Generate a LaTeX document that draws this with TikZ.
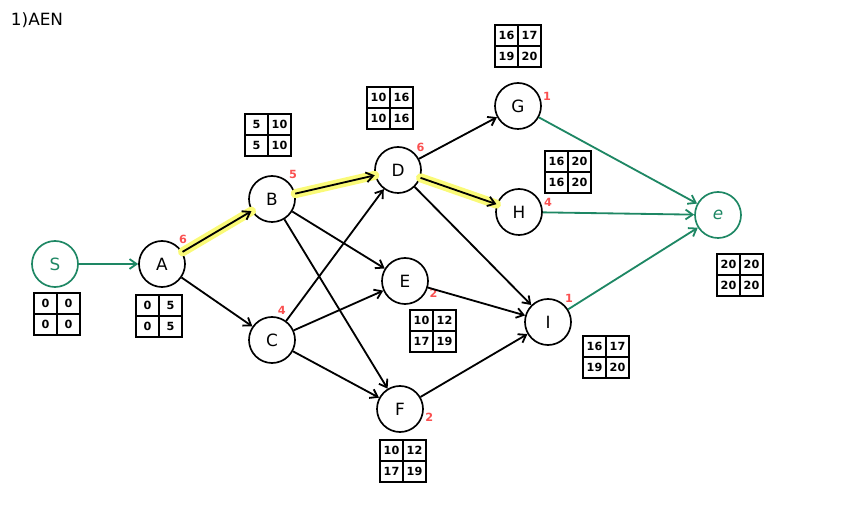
\documentclass[tikz,border=0pt]{standalone}
\usepackage{fontspec}
\setmainfont{DejaVu Sans}
\usepackage{tikz}
\usetikzlibrary{arrows.meta}
\definecolor{pathgreen}{RGB}{30,135,100}
\definecolor{weightred}{RGB}{250,80,80}
\definecolor{critical}{RGB}{250,250,120}
\tikzset{
	event/.style={draw,circle,line width=1.2pt,minimum size=1.15cm,inner sep=0pt,font=\large},
	endevent/.style={event,draw=pathgreen,text=pathgreen},
	weight/.style={text=weightred,font=\footnotesize\bfseries,inner sep=1pt},
	edge/.style={line width=1.3pt,-{Straight Barb[length=5pt,width=7pt]}},
	greenedge/.style={edge,pathgreen},
	glow/.style={critical,line width=6.5pt,line cap=round},
	cell/.style={font=\footnotesize\bfseries,inner sep=0pt}
}
% time box: name, centre, ES, EF, LS, LF
\newcommand{\timebox}[6]{%
	\begin{scope}[shift={#2}]
		\draw[line width=1.4pt] (-23,-21) rectangle (23,21);
		\draw[line width=1.4pt] (0,-21) -- (0,21) (-23,0) -- (23,0);
		\node[cell] (#1-es) at (-11.5,-10.5) {#3};
		\node[cell] (#1-ef) at (11.5,-10.5) {#4};
		\node[cell] (#1-ls) at (-11.5,10.5) {#5};
		\node[cell] (#1-lf) at (11.5,10.5) {#6};
	\end{scope}}

\begin{document}
\begin{tikzpicture}[x=0.025cm,y=-0.025cm]
		\useasboundingbox (0,0) rectangle (848,530);
		\node[font=\large,anchor=west] (title) at (6,20) {1)AEN};
		\draw
		node[endevent] (S) at (55,  264){S}
		node[event,label={[weight]50:6}] (A) at (162, 264){A}
		node[event,label={[weight]50:5}] (B) at (272, 199){B}
		node[event,label={[weight]80:4}] (C) at (272, 340){C}
		node[event,label={[weight]45:6}] (D) at (398, 170){D}
		node[event,label={[weight]-15:2}] (E) at (405, 281){E}
		node[event,label={[weight]-5:2}] (F) at (400, 409){F}
		node[event,label={[weight]10:1}] (G) at (518, 106){G}
		node[event,label={[weight]10:4}] (H) at (519, 212){H}
		node[event,label={[weight]50:1}] (I) at (548, 322){I}
		node[endevent] (e) at (718, 215){\itshape e};
		% critical path
		\draw [glow] (A) -- (B);
		\draw [glow] (B) -- (D);
		\draw [glow] (D) -- (H);
		\draw [greenedge] (S) -- (A);
		\draw [edge] (A) -- (B);
		\draw [edge] (A) -- (C);
		\draw [edge] (B) -- (D);
		\draw [edge] (B) -- (E);
		\draw [edge] (B) -- (F);
		\draw [edge] (C) -- (D);
		\draw [edge] (C) -- (E);
		\draw [edge] (C) -- (F);
		\draw [edge] (D) -- (G);
		\draw [edge] (D) -- (H);
		\draw [edge] (D) -- (I);
		\draw [edge] (E) -- (I);
		\draw [edge] (F) -- (I);
		\draw [greenedge] (G) -- (e);
		\draw [greenedge] (H) -- (e);
		\draw [greenedge] (I) -- (e);
		% times
		\timebox{S}{(57,314)}{0}{0}{0}{0}
		\timebox{A}{(159,316)}{0}{5}{0}{5}
		\timebox{B}{(268,135)}{5}{10}{5}{10}
		\timebox{D}{(390,108)}{10}{16}{10}{16}
		\timebox{G}{(518,46)}{16}{17}{19}{20}
		\timebox{H}{(568,172)}{16}{20}{16}{20}
		\timebox{E}{(433,331)}{10}{12}{17}{19}
		\timebox{F}{(403,461)}{10}{12}{17}{19}
		\timebox{I}{(606,357)}{16}{17}{19}{20}
		\timebox{e}{(740,275)}{20}{20}{20}{20}
\end{tikzpicture}
\end{document}
